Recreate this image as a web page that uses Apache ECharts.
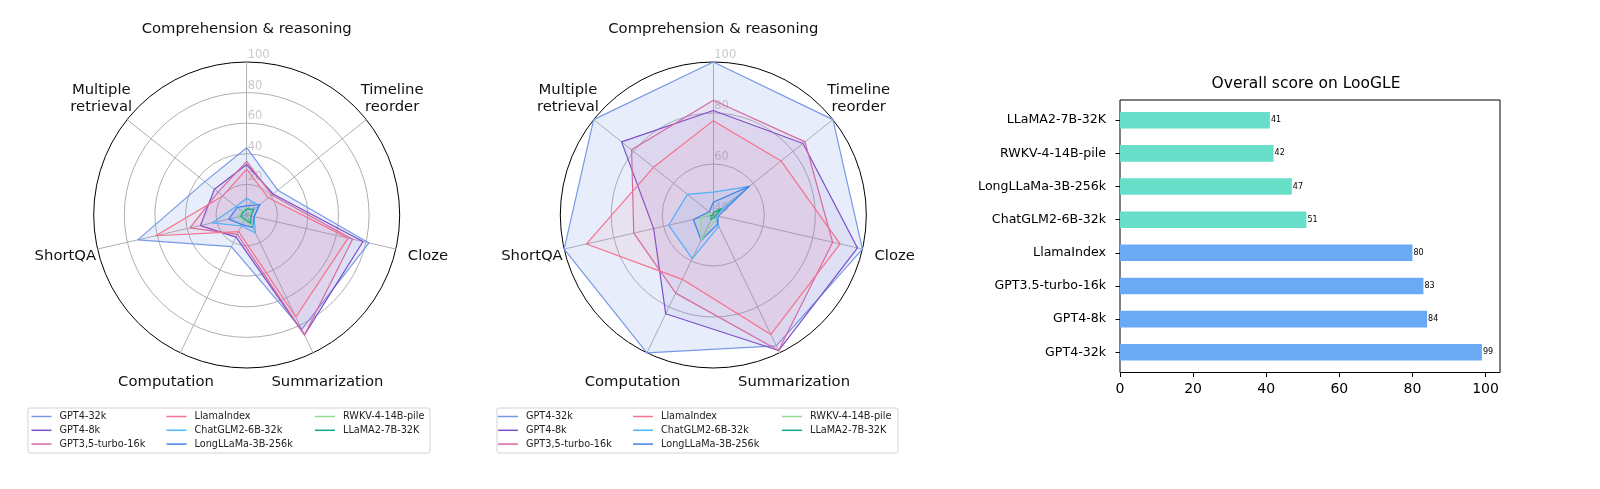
<!DOCTYPE html>
<html><head><meta charset="utf-8">
<script src="https://cdn.jsdelivr.net/npm/echarts@6/dist/echarts.min.js"></script>
<style>html,body{margin:0;padding:0;background:#fff}#c{width:1600px;height:489px}</style>
</head><body><div id="c"></div>
<script>
// ---------------- DATA ----------------
// task order (clockwise from top)
const tasks = ['Comprehension & reasoning', 'Timeline\nreorder', 'Cloze', 'Summarization', 'Computation', 'ShortQA', 'Multiple\nretrieval'];
const models = ['GPT4-32k', 'GPT4-8k', 'GPT3,5-turbo-16k', 'LlamaIndex', 'ChatGLM2-6B-32k', 'LongLLaMa-3B-256k', 'RWKV-4-14B-pile', 'LLaMA2-7B-32K'];

// left radar (scale 0-100), values in task order
const leftGPT4_32k   = [44, 26, 82, 83, 23, 73, 35];
const leftGPT4_8k    = [33, 22, 78, 87, 16, 31, 27];
const leftGPT35      = [35, 21, 71, 87, 14, 38, 24];
const leftLlamaIndex = [30, 18, 68, 74, 12, 61, 20];
const leftChatGLM2   = [11, 10, 5, 13, 8, 23, 9];
const leftLongLLaMa  = [6, 11, 5, 9, 7, 12, 8];
const leftRWKV       = [5, 4, 3, 8, 4, 6, 4];
const leftLLaMA2     = [4, 6, 3, 6, 3, 4, 3];

// middle radar (scale 40-100), values in task order
const midGPT4_32k   = [100, 100, 100, 97, 100, 100, 100];
const midGPT4_8k    = [81, 85, 98, 99, 83, 64, 86];
const midGPT35      = [85, 86, 88, 99, 74, 72, 81];
const midLlamaIndex = [77, 74, 91, 92, 68, 91, 70];
const midChatGLM2   = [49, 58, 41, 45, 59, 58, 53];
const midLongLLaMa  = [45, 58, 42, 44, 51, 48, 42];
const midRWKV       = [41, 44, 41, 42, 51, 45, 41];
const midLLaMA2     = [41, 44, 41, 41, 42, 41, 40];

const leftScale = [0, 100];
const midScale = [40, 100];

// bar chart (bottom to top)
const barCategories = ['GPT4-32k', 'GPT4-8k', 'GPT3.5-turbo-16k', 'LlamaIndex', 'ChatGLM2-6B-32k', 'LongLLaMa-3B-256k', 'RWKV-4-14B-pile', 'LLaMA2-7B-32K'];
const barScores = [99, 84, 83, 80, 51, 47, 42, 41];
const barGroups = ['api', 'api', 'api', 'api', 'open', 'open', 'open', 'open'];
const barTicks = [0, 20, 40, 60, 80, 100];

// ---------------- STYLE ----------------
const FONT = 'DejaVu Sans';
const modelColors = ['#789ae6', '#7a4fc8', '#d76aa0', '#f7708c', '#4fb3f5', '#3f82e8', '#92d992', '#14a884'];
const modelFill = [0.18, 0.08, 0.08, 0.08, 0.1, 0.08, 0.1, 0.1];
const groupColors = { api: '#6aaaf5', open: '#67dec8' };
const GRAY = '#b0b0b0';

const leftSets = [leftGPT4_32k, leftGPT4_8k, leftGPT35, leftLlamaIndex, leftChatGLM2, leftLongLLaMa, leftRWKV, leftLLaMA2];
const midSets = [midGPT4_32k, midGPT4_8k, midGPT35, midLlamaIndex, midChatGLM2, midLongLLaMa, midRWKV, midLLaMA2];

// ECharts radar runs counter-clockwise; reorder so tasks read clockwise
const drawOrder = [0, 6, 5, 4, 3, 2, 1];
const reorder = arr => drawOrder.map(i => arr[i]);

function makeRadar(center, scale, splitNumber) {
  const nRings = splitNumber + 1;
  const ringColors = [];
  for (let i = 0; i < nRings; i++) ringColors.push(i === nRings - 1 ? '#000' : GRAY);
  return {
    center: center, radius: 153, startAngle: 90, shape: 'circle', splitNumber: splitNumber,
    indicator: drawOrder.map((ti, k) => ({ name: tasks[ti], min: scale[0], max: scale[1], axisLabel: { show: k === 0 } })),
    nameGap: 33,
    axisName: { color: '#111', fontSize: 14.8, fontFamily: FONT, align: 'center', verticalAlign: 'middle', lineHeight: 17 },
    splitLine: { lineStyle: { color: ringColors, width: 1 } },
    splitArea: { show: false },
    axisLine: { lineStyle: { color: GRAY, width: 1 } },
    axisTick: { show: false },
    axisLabel: { show: false, color: '#c8c8c8', fontSize: 11.5, fontFamily: FONT, align: 'left', verticalAlign: 'bottom', margin: 0, padding: [0, 0, 1, 1] }
  };
}

const series = [];
[leftSets, midSets].forEach((sets, ri) => {
  sets.forEach((vals, mi) => {
    series.push({
      type: 'radar', radarIndex: ri, name: models[mi], symbol: 'none',
      color: modelColors[mi],
      lineStyle: { width: 1.2, color: modelColors[mi] },
      areaStyle: { color: modelColors[mi], opacity: modelFill[mi] },
      data: [{ name: models[mi], value: reorder(vals) }]
    });
  });
});

series.push({
  type: 'bar', xAxisIndex: 1, yAxisIndex: 1, barWidth: '50%',
  data: barScores.map((v, i) => ({ value: v, itemStyle: { color: groupColors[barGroups[i]] } })),
  label: { show: true, position: 'right', distance: 1, fontSize: 8, color: '#000', fontFamily: FONT }
});

function legendCol(left, names) {
  return {
    orient: 'vertical', left: left, top: 410.5, padding: 0, itemGap: 1.8,
    itemWidth: 20, itemHeight: 1.5, icon: 'rect', selectedMode: false,
    textStyle: { fontSize: 9.7, color: '#222', fontFamily: FONT, lineHeight: 12, padding: [0, 0, 0, 3] },
    data: names
  };
}
const legends = [];
[[31.5, 166.5, 315], [498, 633, 782]].forEach(xs => {
  legends.push(legendCol(xs[0], models.slice(0, 3)));
  legends.push(legendCol(xs[1], models.slice(3, 6)));
  legends.push(legendCol(xs[2], models.slice(6, 8)));
});

const option = {
  animation: false,
  backgroundColor: '#fff',
  textStyle: { fontFamily: FONT },
  title: {
    text: 'Overall score on LooGLE', left: 1306, top: 76, textAlign: 'center', padding: 0,
    textStyle: { fontSize: 15.5, fontWeight: 'normal', color: '#000', fontFamily: FONT }
  },
  legend: legends,
  radar: [makeRadar([246.7, 215], leftScale, 5), makeRadar([713.3, 215], midScale, 3)],
  grid: [
    { left: 1120, top: 100, width: 380, height: 272.5, show: true, borderColor: '#000', borderWidth: 1, backgroundColor: 'transparent' },
    { left: 1120, top: 103.6, width: 380, height: 265.3 }
  ],
  xAxis: [
    { gridIndex: 0, type: 'value', show: false, min: 0, max: 1 },
    {
      gridIndex: 1, type: 'value', min: 0, max: 103.95, offset: 3.6,
      axisLine: { show: false },
      axisTick: { show: true, length: 4.5, lineStyle: { color: '#000' }, customValues: barTicks },
      axisLabel: { color: '#000', fontSize: 14, margin: 10, customValues: barTicks, fontFamily: FONT },
      splitLine: { show: false }
    }
  ],
  yAxis: [
    { gridIndex: 0, type: 'value', show: false, min: 0, max: 1 },
    {
      gridIndex: 1, type: 'category', data: barCategories,
      axisLine: { show: false },
      axisTick: { show: true, alignWithLabel: true, length: 4.5, lineStyle: { color: '#000' } },
      axisLabel: { color: '#000', fontSize: 12.6, margin: 14, fontFamily: FONT },
      splitLine: { show: false }
    }
  ],
  graphic: [
    { type: 'rect', shape: { x: 28, y: 408, width: 402, height: 45, r: 2 }, style: { fill: 'none', stroke: '#d3d3d3', lineWidth: 1 }, z: -1 },
    { type: 'rect', shape: { x: 497, y: 408, width: 401, height: 45, r: 2 }, style: { fill: 'none', stroke: '#d3d3d3', lineWidth: 1 }, z: -1 }
  ],
  series: series
};

const chart = echarts.init(document.getElementById('c'), null, { renderer: 'canvas' });
chart.setOption(option);
</script>
</body></html>
